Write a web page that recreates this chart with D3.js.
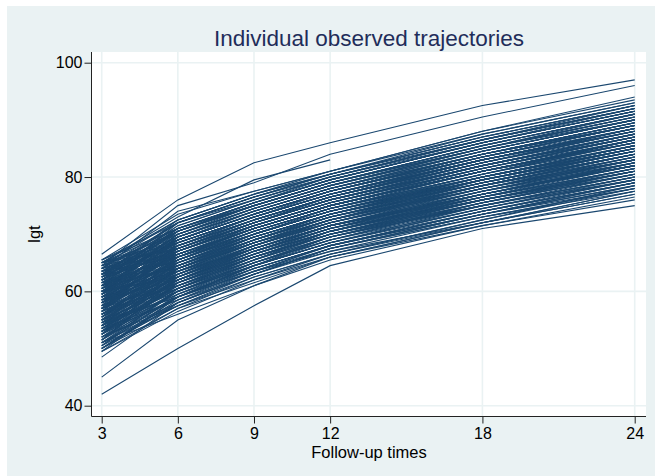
<!DOCTYPE html>
<html>
<head>
<meta charset="utf-8">
<script src="https://cdn.jsdelivr.net/npm/d3@7"></script>
<style>
  body { margin: 0; background: #fff; }
  svg { display: block; font-family: "Liberation Sans", Arial, sans-serif; }
</style>
</head>
<body>
<svg></svg>
<script>
const width = 655;
const height = 476;

// follow-up times (x axis)
const times = [3, 6, 9, 12, 18, 24];
const xTicks = [3, 6, 9, 12, 18, 24];
const yTicks = [40, 60, 80, 100];

// lgt per subject at each follow-up time (null = not observed)
const trajectories = [
  [66.5, 76, 82.5, 86, 92.5, 97],
  [65, 73, 79.5, 83, null, null],
  [64.5, 75, 79, 84, 90.5, 96],
  [42, 50, 57.5, 64.5, 71, 75],
  [45, 55, 61, 66, 72, 77.5],
  [48.5, 58, 63, 67, 73, 78],
  [49.5, 57, 62.5, 66.5, 72.5, 78.5],
  [50, 58.5, 64, 68, 74, 79],
  [50.5, 57.5, 63, 67.5, 73, 77.5],
  [51, 59, 64.5, 68.5, 75, 80],
  [51.5, 60, 65, 69, 74.5, 79.5],
  [52, 58, 63.5, 67, 72, 77],
  [52.5, 61, 66, 70, 76, 81],
  [53, 60.5, 65.5, 70.5, 77, 82],
  [53, 59.5, 64, 68, 73.5, 78.5],
  [53.5, 62, 67, 71, 77.5, 83],
  [54, 61, 65.5, 69.5, 75.5, 80.5],
  [54, 63, 68, 72, 78, 83.5],
  [54.5, 60, 64.5, 68.5, 74, 79],
  [55, 62.5, 67.5, 71.5, 77, 82.5],
  [55, 64, 69, 73, 79, 84],
  [55.5, 61.5, 66, 70, 76.5, 81.5],
  [55.5, 63.5, 68.5, 72.5, 79.5, 85],
  [56, 62, 67, 71, 76, 80.5],
  [56, 65, 69.5, 73.5, 80, 85.5],
  [56.5, 63, 68, 72.5, 78.5, 84],
  [56.5, 61, 65.5, 70, 75, 79.5],
  [57, 64.5, 69, 73, 78.5, 83],
  [57, 66, 71, 75, 81, 86],
  [57.5, 63.5, 67.5, 71.5, 77.5, 82.5],
  [57.5, 65, 70, 74.5, 80.5, 86],
  [58, 62.5, 67, 71.5, 76.5, 81],
  [58, 66.5, 71.5, 75.5, 81.5, 87],
  [58, 64, 68.5, 72, 78, 83],
  [58.5, 67, 72, 76, 82, 87.5],
  [58.5, 65.5, 70, 74, 79.5, 84.5],
  [59, 63, 68, 72, 77.5, 82],
  [59, 67.5, 72, 76.5, 83, 88],
  [59, 65, 69.5, 73.5, 79, 84],
  [59.5, 68, 73, 77, 83, 88.5],
  [59.5, 64.5, 69, 73, 78.5, 83.5],
  [60, 66.5, 71, 75, 81, 86.5],
  [60, 69, 74, 78, 84, 89],
  [60, 63.5, 68.5, 72.5, 78, 82.5],
  [60.5, 67, 71.5, 75.5, 82, 87.5],
  [60.5, 69.5, 74, 78, 84.5, 90],
  [61, 65.5, 70.5, 74.5, 80, 85],
  [61, 68, 72.5, 76.5, 82.5, 88],
  [61, 70, 74.5, 78.5, 85, 90.5],
  [61.5, 66, 70, 74, 79.5, 84.5],
  [61.5, 69, 73.5, 77.5, 83.5, 89],
  [62, 67.5, 72, 76, 82, 87],
  [62, 70.5, 75, 79, 85.5, 91],
  [62, 64.5, 69.5, 73.5, 79, 84],
  [62.5, 68.5, 73, 77, 83, 88.5],
  [62.5, 71, 75.5, 79.5, 86, 91.5],
  [63, 67, 71.5, 75.5, 81.5, 86.5],
  [63, 69.5, 74, 78, 84, 89.5],
  [63, 71.5, 76, 80, 86.5, 92],
  [63.5, 66, 70.5, 74.5, 80.5, 85.5],
  [63.5, 70, 74.5, 78.5, 85, 90],
  [64, 72, 76.5, 80.5, 87, 92.5],
  [64, 68, 72.5, 76.5, 82.5, 88],
  [64.5, 70.5, 75, 79, 85.5, 91],
  [65, 72.5, 77, 81, 87.5, 93],
  [65, 69, 73.5, 77.5, 83.5, 89],
  [65.5, 71, 75.5, 80, 86.5, 92],
  [65.5, 73.5, 77.5, 81, 88, 93.5],
  [50.5, 59.5, 65, 69, 75.5, 80.5],
  [51, 58, 63, 67.5, 73.5, 79],
  [51.5, 61.5, 67, 71, 77, 82],
  [52, 60, 64.5, 69, 75, 80.5],
  [52.5, 59, 64.5, 68.5, 74.5, 79.5],
  [53, 62.5, 68, 72, 78.5, 84],
  [53.5, 60.5, 66, 70, 76, 81],
  [54, 64, 69, 73.5, 79.5, 85],
  [54.5, 62, 67, 71, 77.5, 82.5],
  [55, 60.5, 65.5, 69.5, 75, 80],
  [55.5, 65, 70, 74, 80.5, 86],
  [56, 63.5, 68.5, 72.5, 78.5, 84],
  [56.5, 66.5, 71, 75, 81.5, 87],
  [57, 62, 66.5, 70.5, 76.5, 81.5],
  [57.5, 67, 72, 76, 82, 87.5],
  [58, 65.5, 70.5, 74.5, 80, 85.5],
  [58.5, 63.5, 68, 72, 78, 83],
  [59, 69, 73.5, 77.5, 84, 89.5],
  [59.5, 66, 70.5, 74.5, 80.5, 86],
  [60, 67.5, 72.5, 76.5, 83, 88],
  [60.5, 64.5, 69.5, 73.5, 79.5, 84.5],
  [61, 71, 75, 79, 85.5, 91],
  [61.5, 67.5, 72, 76, 82.5, 87.5],
  [62, 69, 73.5, 77.5, 84, 89.5],
  [62.5, 66.5, 71, 75, 81, 86],
  [63, 70.5, 75, 79, 85, 90.5],
  [63.5, 68.5, 73, 77, 83.5, 88.5],
  [64, 71, 75.5, 79.5, 86, 91.5],
  [64.5, 67.5, 72, 76, 82, 87],
  [65, 70, 74.5, 78.5, 84.5, 90],
  [52, 57.5, 62, 66.5, 72, 77],
  [53.5, 58.5, 63.5, 67.5, 73.5, 78],
  [54.5, 59, 64, 68, 74, 79],
  [56, 60.5, 65, 69.5, 75, 80],
  [57, 61.5, 66, 70, 75.5, 80.5],
  [58.5, 62, 67, 71, 76.5, 81.5],
  [60, 62.5, 67.5, 71.5, 77, 82],
  [61.5, 64, 68.5, 72.5, 78, 83],
  [63, 65, 69.5, 73.5, 79.5, 84.5],
  [50, 59, 64.5, 69.5, 76, 81.5],
  [51.5, 62.5, 68, 72.5, 78.5, 84],
  [53, 64, 69.5, 73.5, 80, 85.5],
  [55, 66, 71.5, 75.5, 81.5, 87],
  [56.5, 68, 73, 77, 83.5, 89],
  [58, 69.5, 74.5, 78.5, 84.5, 90],
  [59.5, 70.5, 75.5, 79.5, 86, 91.5],
  [61, 72, 76.5, 80.5, 87, 92.5],
  [62.5, 72.5, 77, 80.5, 87.5, 93],
  [54, 65.5, 70.5, 74.5, 81, 86.5],
  [57, 68.5, 73, 77, 83, 88.5],
  [60, 70, 75, 79, 85, 90.5],
  [62, 71.5, 76, 80, 86, 91.5],
  [55.5, 64.5, 70, 74, 80, 85],
  [58, 67, 72, 76, 82.5, 88],
  [60.5, 68.5, 73, 77.5, 84, 89],
  [63.5, 72, 76.5, 80.5, 86.5, 92],
  [52.5, 63.5, 69, 73, 79, 84.5],
  [57.5, 69, 73.5, 77.5, 83.5, 89],
  [49.5, 56.5, 62, 66, 72, 77.5],
  [50, 57, 61.5, 66, 71.5, 76.5],
  [51, 56, 61, 65.5, 71.5, 76],
  [64, 74, 77.5, 81, 88, 94],
  [50.5, 60.5, 66, 70.5, 76.5, 82],
  [51, 57.5, 62.5, 66.5, 72.5, 78],
  [51.5, 59, 63.5, 68, 74, 79.5],
  [52, 61.5, 66.5, 70.5, 76.5, 82.5],
  [52.5, 60, 65, 69.5, 75.5, 81],
  [52.5, 62, 67.5, 71.5, 78, 83.5],
  [53, 58.5, 63, 67.5, 73, 78],
  [53.5, 61, 66.5, 70.5, 77, 82.5],
  [53.5, 63, 68.5, 73, 79, 84.5],
  [54, 59.5, 64.5, 68.5, 74.5, 79.5],
  [54, 62, 67.5, 71.5, 77.5, 83],
  [54.5, 64.5, 69.5, 73.5, 80, 85.5],
  [54.5, 61.5, 66, 70, 76, 81],
  [55, 63, 68, 72, 78.5, 84],
  [55, 59, 63.5, 68, 73.5, 78.5],
  [55.5, 62.5, 67, 71.5, 77.5, 83],
  [55.5, 66, 71, 75, 81, 86.5],
  [56, 61.5, 66.5, 70.5, 76.5, 81.5],
  [56, 64, 69, 73, 79.5, 85],
  [56.5, 65.5, 70.5, 74.5, 80.5, 86.5],
  [56.5, 62.5, 67.5, 71.5, 77, 82],
  [57, 63, 67.5, 72, 78, 83.5],
  [57, 67.5, 72.5, 76.5, 82.5, 88],
  [57.5, 64, 68.5, 72.5, 79, 84.5],
  [57.5, 61, 66, 70, 75.5, 80.5],
  [58, 66, 71, 75, 81, 86.5],
  [58, 63, 67.5, 71.5, 77, 82],
  [58.5, 68, 72.5, 76.5, 83, 88.5],
  [58.5, 64.5, 69.5, 73.5, 79.5, 85],
  [59, 66.5, 71, 75, 81.5, 87],
  [59, 62, 66.5, 70.5, 76, 81],
  [59.5, 67, 71.5, 75.5, 82, 87.5],
  [59.5, 69.5, 74, 78, 84.5, 90],
  [60, 65, 70, 74, 80, 85.5],
  [60, 68, 72.5, 76.5, 82.5, 88.5],
  [60.5, 66, 70.5, 74.5, 81, 86.5],
  [60.5, 70, 74.5, 78.5, 85, 90.5],
  [61, 67, 71.5, 75.5, 81.5, 87],
  [61, 64, 68.5, 72.5, 78.5, 83.5],
  [61.5, 70.5, 75, 79, 85, 91],
  [61.5, 65.5, 70, 74, 80, 85],
  [62, 68, 72.5, 76.5, 83, 88.5],
  [62, 71, 75.5, 79.5, 86, 92],
  [62.5, 67, 71.5, 75.5, 82, 87],
  [62.5, 69.5, 74, 78, 84.5, 90],
  [63, 68.5, 73, 77, 83, 88.5],
  [63, 72, 76.5, 80, 86.5, 92.5],
  [63.5, 67.5, 72, 76, 82, 87.5],
  [63.5, 70.5, 75, 79, 85.5, 91],
  [64, 69, 73.5, 77.5, 84, 89],
  [64, 66.5, 71, 75, 81, 86.5],
  [64.5, 72.5, 77, 80.5, 87, 92.5],
  [64.5, 69.5, 74, 78, 84, 89.5],
  [65, 71, 75.5, 79.5, 86, 91.5],
  [65, 67.5, 72, 76.5, 82.5, 88],
  [65.5, 72, 76, 80, 86.5, 92],
  [52, 59, 64, 68, 74, 79],
  [53, 60, 65, 69, 75.5, 81],
  [54, 60.5, 65, 69.5, 75, 80],
  [55, 61, 66, 70.5, 76, 81],
  [56, 62.5, 67.5, 71.5, 77, 82],
  [57, 64, 69, 73.5, 79.5, 85],
  [58, 64.5, 69, 73, 79, 84.5],
  [59, 65.5, 70, 74, 80, 85],
  [60, 66, 71, 75, 81, 86],
  [61, 66.5, 71, 75, 81, 86],
  [62, 68.5, 73, 77, 83.5, 89],
  [63, 69, 73.5, 77.5, 83.5, 89],
  [50, 58, 63, 67.5, 73.5, 79],
  [51, 60, 65.5, 70, 76, 81.5],
  [49.5, 59, 64.5, 68.5, 74.5, 80],
  [53, 61.5, 66.5, 71, 77, 82.5],
  [55, 62, 66.5, 71, 77, 82],
  [57, 65.5, 70, 74, 80, 85.5],
  [59, 64, 68.5, 73, 79, 84],
  [61, 69, 73.5, 77.5, 84, 89.5],
  [63, 66.5, 71, 75, 81, 86.5],
  [65, 68.5, 73, 77, 83, 88.5]
];

const bg = "#eaf2f3";
const navy = "#1a476f";

// plot region
const plot = { left: 92, right: 646, top: 52, bottom: 416 };

const svg = d3.select("svg")
    .attr("width", width)
    .attr("height", height);

svg.append("rect")
    .attr("x", 7).attr("y", 6)
    .attr("width", width - 7).attr("height", height - 6)
    .attr("fill", bg);

svg.append("rect")
    .attr("x", plot.left).attr("y", plot.top)
    .attr("width", plot.right - plot.left).attr("height", plot.bottom - plot.top)
    .attr("fill", "#fff");

const x = d3.scaleLinear().domain([3, 24]).range([101.7, 634.7]);
const y = d3.scaleLinear().domain([40, 100]).range([405.7, 62.7]);

// grid
const grid = svg.append("g").attr("stroke", bg).attr("stroke-width", 1.6);
grid.selectAll("line.v")
    .data(xTicks)
    .enter().append("line")
    .attr("class", "v")
    .attr("x1", d => x(d)).attr("x2", d => x(d))
    .attr("y1", plot.top).attr("y2", plot.bottom);
grid.selectAll("line.h")
    .data(yTicks)
    .enter().append("line")
    .attr("class", "h")
    .attr("x1", plot.left).attr("x2", plot.right)
    .attr("y1", d => y(d)).attr("y2", d => y(d));

// trajectories
const line = d3.line()
    .defined(d => d[1] != null)
    .x(d => x(d[0]))
    .y(d => y(d[1]));

svg.append("g")
    .attr("class", "lines")
    .selectAll("path")
    .data(trajectories)
    .enter().append("path")
    .attr("d", vals => line(times.map((t, i) => [t, vals[i]])))
    .attr("fill", "none")
    .attr("stroke", navy)
    .attr("stroke-width", 1.1);

// axes
const yAxis = svg.append("g")
    .attr("transform", `translate(${plot.left - 0.5},0)`)
    .call(d3.axisLeft(y).tickValues(yTicks).tickSize(7).tickPadding(2));
yAxis.select(".domain").attr("d", `M0,${plot.top}V${plot.bottom + 0.5}`);

const xAxis = svg.append("g")
    .attr("transform", `translate(0,${plot.bottom + 0.5})`)
    .call(d3.axisBottom(x).tickValues(xTicks).tickSize(7).tickPadding(4));
xAxis.select(".domain").attr("d", `M${plot.left - 0.5},0H${plot.right}`);

svg.selectAll(".tick text")
    .attr("font-size", 16)
    .attr("font-family", "'Liberation Sans', Arial, sans-serif")
    .attr("fill", "#000");
svg.selectAll(".tick line, .domain").attr("stroke", "#222");

// titles
svg.append("text")
    .attr("x", (plot.left + plot.right) / 2)
    .attr("y", 46)
    .attr("text-anchor", "middle")
    .attr("font-size", 22.5)
    .attr("fill", "#1f2d5a")
    .text("Individual observed trajectories");

svg.append("text")
    .attr("x", (plot.left + plot.right) / 2)
    .attr("y", 458)
    .attr("text-anchor", "middle")
    .attr("font-size", 16.5)
    .attr("fill", "#000")
    .text("Follow-up times");

svg.append("text")
    .attr("transform", `translate(39.5,${(plot.top + plot.bottom) / 2}) rotate(-90)`)
    .attr("text-anchor", "middle")
    .attr("font-size", 16.5)
    .attr("fill", "#000")
    .text("lgt");
</script>
</body>
</html>
